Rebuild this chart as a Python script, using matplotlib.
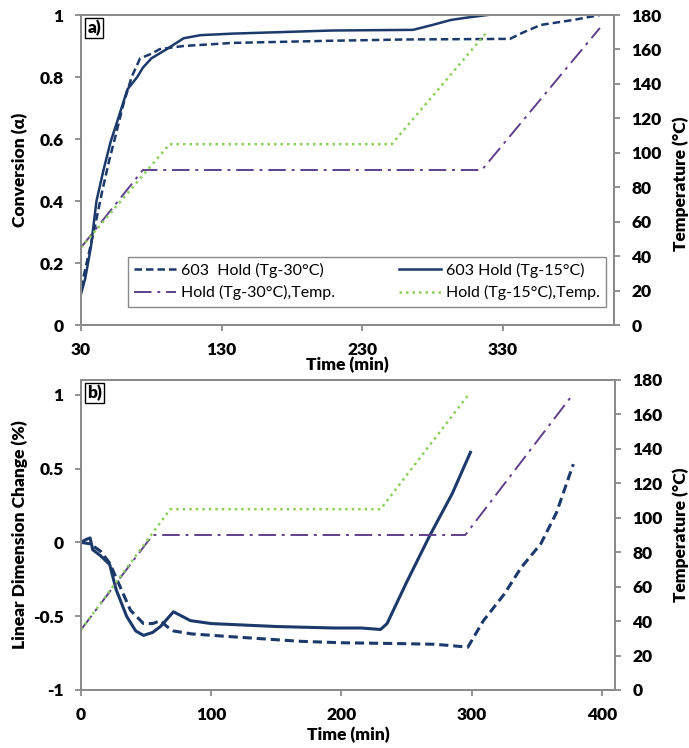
import matplotlib
matplotlib.use("Agg")
import matplotlib.pyplot as plt
from matplotlib.lines import Line2D

plt.rcParams['font.family'] = 'Lato'
plt.rcParams['font.weight'] = 800
plt.rcParams['axes.labelweight'] = 800
plt.rcParams['font.size'] = 12.5

navy = '#1B3A6B'
purple = '#5F3F8C'
green = '#8CCF5A'
gray = '#8A8A8A'

# ---- panel a) conversion vs time, with temperature profiles
t_a30 = [30, 35, 40, 45, 50, 54, 60, 66, 72, 80, 86, 103, 138, 209, 260, 335, 345, 357, 380, 399]
conv_a30 = [0.12, 0.22, 0.32, 0.43, 0.53, 0.6, 0.71, 0.8, 0.86, 0.875, 0.89, 0.9, 0.91, 0.917, 0.921, 0.923, 0.945, 0.968, 0.984, 1.0]

t_a15 = [30, 33, 37, 41, 46, 51, 56, 63, 70, 74, 80, 91, 103, 115, 138, 209, 266, 280, 293, 305, 319]
conv_a15 = [0.10, 0.15, 0.25, 0.4, 0.5, 0.59, 0.66, 0.76, 0.8, 0.83, 0.86, 0.89, 0.925, 0.935, 0.94, 0.95, 0.952, 0.968, 0.984, 0.992, 1.0]

t_temp_a30 = [30, 74, 315, 399]
temp_a30 = [45, 90, 90, 172.5]
t_temp_a15 = [30, 93, 251, 318]
temp_a15 = [45, 105, 105, 169.5]

# ---- panel b) linear dimension change vs time
t_b30 = [0, 7, 15, 22, 30, 38, 48, 55, 61, 66, 71, 85, 117, 168, 200, 240, 271, 285, 297, 309, 325, 338, 353, 365, 378]
ldc_b30 = [0.0, -0.01, -0.06, -0.14, -0.30, -0.46, -0.55, -0.55, -0.53, -0.57, -0.60, -0.62, -0.64, -0.67, -0.68, -0.685, -0.69, -0.70, -0.71, -0.53, -0.35, -0.17, -0.01, 0.2, 0.53]

t_b15 = [0, 4, 7, 9, 15, 22, 27, 35, 42, 48, 55, 61, 66, 71, 84, 100, 150, 194, 215, 230, 235, 250, 268, 285, 299]
ldc_b15 = [0.0, 0.02, 0.03, -0.05, -0.09, -0.15, -0.32, -0.50, -0.60, -0.63, -0.61, -0.57, -0.52, -0.47, -0.53, -0.55, -0.57, -0.58, -0.58, -0.59, -0.55, -0.27, 0.05, 0.33, 0.61]

t_temp_b30 = [0, 55, 295, 378]
temp_b30 = [35, 90, 90, 172]
t_temp_b15 = [0, 68.5, 230, 298]
temp_b15 = [35, 105, 105, 172]

xticks_a = [30, 130, 230, 330]
yticks_a = [0, 0.2, 0.4, 0.6, 0.8, 1]
yticklabels_a = ['0', '0.2', '0.4', '0.6', '0.8', '1']
xticks_b = [0, 100, 200, 300, 400]
yticks_b = [-1, -0.5, 0, 0.5, 1]
yticklabels_b = ['-1', '-0.5', '0', '0.5', '1']
temp_ticks = list(range(0, 181, 20))

dash_navy = (0, (3, 1.6))
dashdot_purple = (0, (9, 3, 1.5, 3))
dot_green = (0, (1, 1.6))

fig = plt.figure(figsize=(6.89, 7.48), dpi=100)
ax1 = fig.add_axes([81 / 689, 1 - 325 / 748, 533 / 689, 310 / 748])
ax2 = fig.add_axes([81 / 689, 1 - 690 / 748, 534 / 689, 310 / 748])


def style(ax):
    for s in ax.spines.values():
        s.set_color(gray)
        s.set_linewidth(1.3)
    ax.tick_params(direction='out', color=gray, width=1.3, length=4.5, labelsize=12.5, pad=8)


# panel a
ax1t = ax1.twinx()
ax1.plot(t_a30, conv_a30, color=navy, lw=1.8, linestyle=dash_navy)
ax1.plot(t_a15, conv_a15, color=navy, lw=1.8)
ax1t.plot(t_temp_a30, temp_a30, color=purple, lw=1.4, linestyle=dashdot_purple)
ax1t.plot(t_temp_a15, temp_a15, color=green, lw=1.8, linestyle=dot_green)
ax1.set_xlim(30, 409)
ax1.set_ylim(0, 1)
ax1t.set_ylim(0, 180)
ax1.set_xticks(xticks_a)
ax1.set_yticks(yticks_a)
ax1.set_yticklabels(yticklabels_a)
ax1t.set_yticks(temp_ticks)
ax1.set_xlabel('Time (min)', fontsize=12.5)
ax1.set_ylabel('Conversion (α)', fontsize=12.5)
ax1t.set_ylabel('Temperature (°C)', fontsize=12.5)
ax1.xaxis.set_label_coords(0.5, -0.103)
ax1.yaxis.set_label_coords(-0.099, 0.5)
ax1t.yaxis.set_label_coords(1.109, 0.455)
for a in (ax1, ax1t):
    style(a)
ax1.text(0.012, 0.985, 'a)', transform=ax1.transAxes, ha='left', va='top', fontsize=12.5,
         bbox=dict(boxstyle='square,pad=0.12', fc='white', ec='black', lw=1))

handles = [
    Line2D([], [], color=navy, lw=1.8, linestyle=dash_navy),
    Line2D([], [], color=purple, lw=1.4, linestyle=dashdot_purple),
    Line2D([], [], color=navy, lw=1.8),
    Line2D([], [], color=green, lw=1.8, linestyle=dot_green),
]
labels = ['603  Hold (Tg-30°C)', 'Hold (Tg-30°C),Temp.',
          '603 Hold (Tg-15°C)', 'Hold (Tg-15°C),Temp.']
leg = ax1t.legend(handles, labels, ncol=2, loc='center',
                  bbox_to_anchor=(0.088, 0.048, 0.897, 0.184), mode='expand',
                  fancybox=False, edgecolor=gray, framealpha=1,
                  handlelength=2.6, handletextpad=0.3, borderaxespad=0,
                  labelspacing=0.45, columnspacing=1.0,
                  prop={'family': 'Lato', 'weight': 'normal', 'size': 11.5})
leg.get_frame().set_linewidth(1.0)

# panel b
ax2t = ax2.twinx()
ax2.plot(t_b30, ldc_b30, color=navy, lw=2.2, linestyle=dash_navy)
ax2.plot(t_b15, ldc_b15, color=navy, lw=2.2)
ax2t.plot(t_temp_b30, temp_b30, color=purple, lw=1.4, linestyle=dashdot_purple)
ax2t.plot(t_temp_b15, temp_b15, color=green, lw=1.8, linestyle=dot_green)
ax2.set_xlim(0, 410)
ax2.set_ylim(-1, 1.1)
ax2t.set_ylim(0, 180)
ax2.set_xticks(xticks_b)
ax2.set_yticks(yticks_b)
ax2.set_yticklabels(yticklabels_b)
ax2t.set_yticks(temp_ticks)
ax2.set_xlabel('Time (min)', fontsize=12.5)
ax2.set_ylabel('Linear Dimension Change (%)', fontsize=12.5)
ax2t.set_ylabel('Temperature (°C)', fontsize=12.5)
ax2.xaxis.set_label_coords(0.5, -0.12)
ax2.yaxis.set_label_coords(-0.099, 0.5)
ax2t.yaxis.set_label_coords(1.107, 0.5)
for a in (ax2, ax2t):
    style(a)
ax2.text(0.012, 0.985, 'b)', transform=ax2.transAxes, ha='left', va='top', fontsize=12.5,
         bbox=dict(boxstyle='square,pad=0.12', fc='white', ec='black', lw=1))

fig.savefig('out.png', dpi=100)
